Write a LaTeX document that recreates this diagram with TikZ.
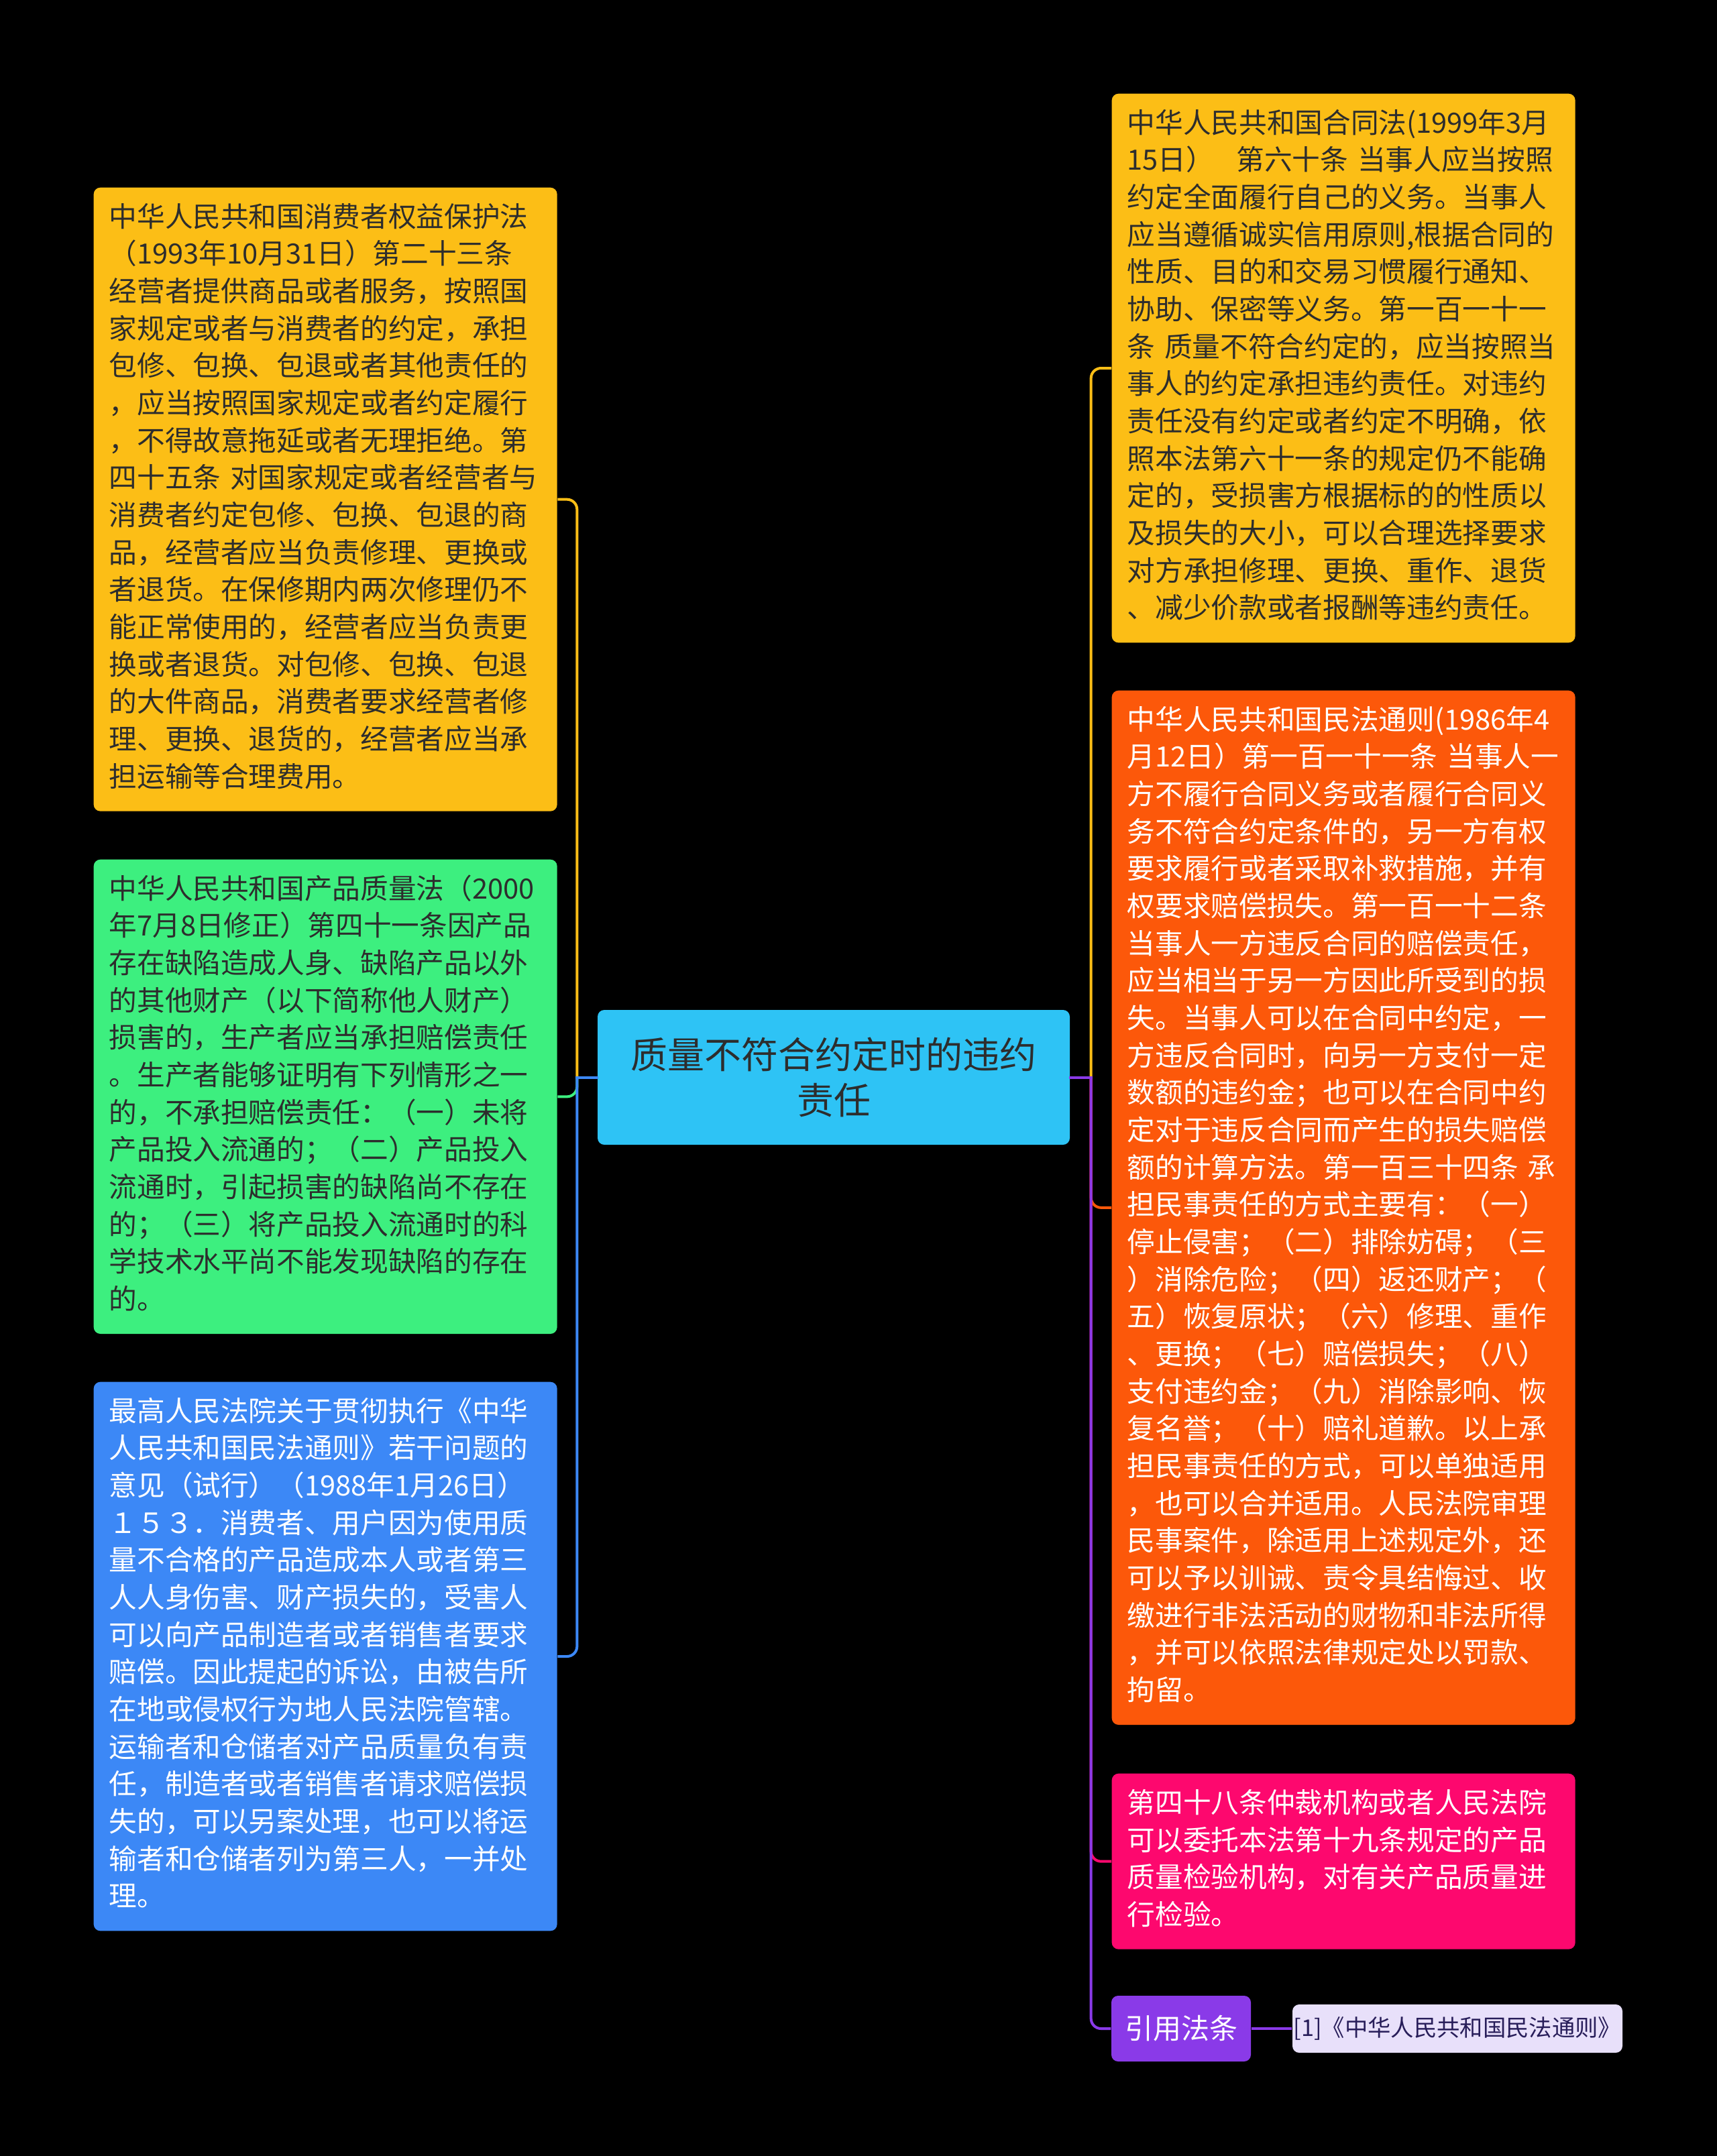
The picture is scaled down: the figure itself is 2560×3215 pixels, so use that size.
\documentclass[tikz,border=0pt]{standalone}
\usepackage{fontspec}
\setmainfont{Noto Sans CJK SC}
\usetikzlibrary{calc}
\definecolor{cYellow}{RGB}{252,190,22}
\definecolor{cGreen}{RGB}{61,239,127}
\definecolor{cBlue}{RGB}{60,136,246}
\definecolor{cCenter}{RGB}{46,195,245}
\definecolor{cOrange}{RGB}{252,88,10}
\definecolor{cPink}{RGB}{253,8,110}
\definecolor{cPurple}{RGB}{138,58,232}
\definecolor{cRef}{RGB}{232,224,250}
\definecolor{cRefText}{RGB}{40,30,90}
\definecolor{cDark}{RGB}{45,45,45}
\newcommand\bodyfont{\fontsize{12.5pt}{16.7pt}\selectfont}
\tikzset{
  box/.style={rounded corners=3pt, anchor=north west, inner xsep=6.9pt, inner ysep=5.9pt,
    text width=193.5pt, align=left, font=\bodyfont},
  centerbox/.style={fill=cCenter, rounded corners=3pt, minimum width=211.2pt, minimum height=60.3pt,
    align=center, text=cDark, inner sep=0pt, font=\fontsize{16.5pt}{20.4pt}\selectfont},
  tagbox/.style={fill=cPurple, rounded corners=3pt, minimum width=62.4pt, minimum height=29.4pt,
    inner sep=0pt, text=white, font=\fontsize{12.6pt}{15pt}\selectfont},
  refbox/.style={fill=cRef, rounded corners=3pt, minimum width=147.6pt, minimum height=21.6pt,
    inner sep=0pt, text=cRefText, font=\fontsize{10.3pt}{12pt}\selectfont},
  conn/.style={line width=1.2pt},
  stub/.style={line width=1.2pt, line cap=rect},
}
\begin{document}
\begin{tikzpicture}[x=0.3pt,y=-0.3pt]
\fill[black] (0,0) rectangle (2560,3215);
\useasboundingbox (0,0) rectangle (2560,3215);

\node[centerbox] (c) at (1243,1606.5) {质量不符合约定时的违约\\责任};

\node[box, fill=cYellow, text=cDark] (l1) at (139,279) {\strut 中华人民共和国消费者权益保护法\\
（1993年10月31日）第二十三条\\
经营者提供商品或者服务，按照国\\
家规定或者与消费者的约定，承担\\
包修、包换、包退或者其他责任的\\
，应当按照国家规定或者约定履行\\
，不得故意拖延或者无理拒绝。第\\
四十五条~对国家规定或者经营者与\\
消费者约定包修、包换、包退的商\\
品，经营者应当负责修理、更换或\\
者退货。在保修期内两次修理仍不\\
能正常使用的，经营者应当负责更\\
换或者退货。对包修、包换、包退\\
的大件商品，消费者要求经营者修\\
理、更换、退货的，经营者应当承\\
担运输等合理费用。\strut};

\node[box, fill=cGreen, text=cDark] (l2) at (139,1281) {\strut 中华人民共和国产品质量法（2000\\
年7月8日修正）第四十一条因产品\\
存在缺陷造成人身、缺陷产品以外\\
的其他财产（以下简称他人财产）\\
损害的，生产者应当承担赔偿责任\\
。生产者能够证明有下列情形之一\\
的，不承担赔偿责任：（一）未将\\
产品投入流通的；（二）产品投入\\
流通时，引起损害的缺陷尚不存在\\
的；（三）将产品投入流通时的科\\
学技术水平尚不能发现缺陷的存在\\
的。\strut};

\node[box, fill=cBlue, text=white] (l3) at (139,2060) {\strut 最高人民法院关于贯彻执行《中华\\
人民共和国民法通则》若干问题的\\
意见（试行）（1988年1月26日）\\
１５３．消费者、用户因为使用质\\
量不合格的产品造成本人或者第三\\
人人身伤害、财产损失的，受害人\\
可以向产品制造者或者销售者要求\\
赔偿。因此提起的诉讼，由被告所\\
在地或侵权行为地人民法院管辖。\\
运输者和仓储者对产品质量负有责\\
任，制造者或者销售者请求赔偿损\\
失的，可以另案处理，也可以将运\\
输者和仓储者列为第三人，一并处\\
理。\strut};

\node[box, fill=cYellow, text=cDark] (r1) at (1657,139) {\strut 中华人民共和国合同法(1999年3月\\
15日）\hspace{0.8em}第六十条~当事人应当按照\\
约定全面履行自己的义务。当事人\\
应当遵循诚实信用原则,根据合同的\\
性质、目的和交易习惯履行通知、\\
协助、保密等义务。第一百一十一\\
条~质量不符合约定的，应当按照当\\
事人的约定承担违约责任。对违约\\
责任没有约定或者约定不明确，依\\
照本法第六十一条的规定仍不能确\\
定的，受损害方根据标的的性质以\\
及损失的大小，可以合理选择要求\\
对方承担修理、更换、重作、退货\\
、减少价款或者报酬等违约责任。\strut};

\node[box, fill=cOrange, text=white] (r2) at (1657,1029) {\strut 中华人民共和国民法通则(1986年4\\
月12日）第一百一十一条~当事人一\\
方不履行合同义务或者履行合同义\\
务不符合约定条件的，另一方有权\\
要求履行或者采取补救措施，并有\\
权要求赔偿损失。第一百一十二条\\
当事人一方违反合同的赔偿责任，\\
应当相当于另一方因此所受到的损\\
失。当事人可以在合同中约定，一\\
方违反合同时，向另一方支付一定\\
数额的违约金；也可以在合同中约\\
定对于违反合同而产生的损失赔偿\\
额的计算方法。第一百三十四条~承\\
担民事责任的方式主要有：（一）\\
停止侵害；（二）排除妨碍；（三\\
）消除危险；（四）返还财产；（\\
五）恢复原状；（六）修理、重作\\
、更换；（七）赔偿损失；（八）\\
支付违约金；（九）消除影响、恢\\
复名誉；（十）赔礼道歉。以上承\\
担民事责任的方式，可以单独适用\\
，也可以合并适用。人民法院审理\\
民事案件，除适用上述规定外，还\\
可以予以训诫、责令具结悔过、收\\
缴进行非法活动的财物和非法所得\\
，并可以依照法律规定处以罚款、\\
拘留。\strut};

\node[box, fill=cPink, text=white] (r3) at (1657,2644) {\strut 第四十八条仲裁机构或者人民法院\\
可以委托本法第十九条规定的产品\\
质量检验机构，对有关产品质量进\\
行检验。\strut};

\node[tagbox] (r4) at (1761,3025) {引用法条};
\node[refbox] (ref) at (2173,3025) {[1]《中华人民共和国民法通则》};

\coordinate (tl) at ($(c.west)+(-30,0)$);
\coordinate (tr) at ($(c.east)+(31,0)$);

\foreach \n/\col in {l1/cYellow,l2/cGreen,l3/cBlue}{
  \draw[stub,\col] (c.west) -- (tl);
  \draw[conn,\col,rounded corners=4.5pt] (tl) |- (\n.east);
}
\foreach \n/\col in {r1/cYellow,r2/cOrange,r3/cPink,r4/cPurple}{
  \draw[stub,\col] (c.east) -- (tr);
  \draw[conn,\col,rounded corners=4.5pt] (tr) |- (\n.west);
}
\draw[conn,cPurple] (r4.east) -- (ref.west);
\end{tikzpicture}
\end{document}
